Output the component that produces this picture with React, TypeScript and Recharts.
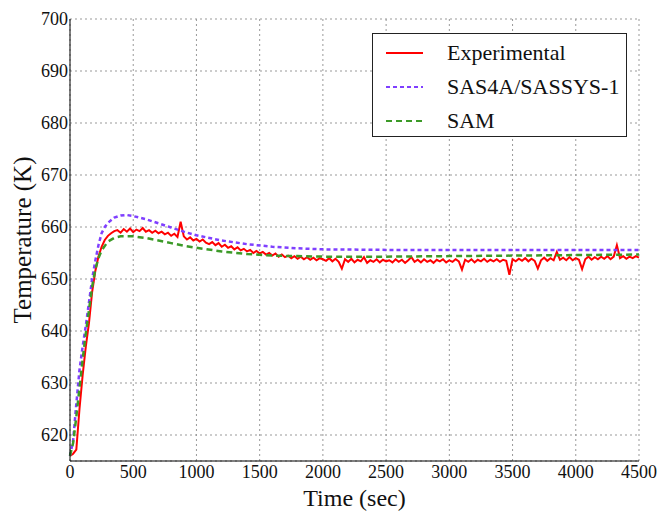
import React from 'react';
import { LineChart, Line, XAxis, YAxis, CartesianGrid, Legend } from 'recharts';

// experimental trace, one reading every 25 s from t = 0 to 4500
const EXP_STEP = 25;
const expTemp = [
  616.0, 616.4, 617.2, 625.0, 631.5, 637.0, 641.5, 647.5, 651.5, 654.3, 656.2, 657.5, 658.3, 658.8, 659.2,
  659.4, 658.9, 659.6, 659.1, 659.7, 659.0, 659.5, 659.2, 659.8, 659.1, 659.4, 658.9, 659.3, 658.8,
  659.1, 658.6, 658.9, 658.3, 658.7, 658.1, 661.0, 658.2, 657.6, 658.0, 657.4, 657.7,
  657.2, 657.6, 657.0, 656.7, 657.1, 656.5, 656.9, 656.2, 656.6, 656.0, 656.3, 655.7, 656.1, 655.5, 655.8, 655.3, 655.6, 655.0, 655.4, 654.9,
  655.2, 654.7, 655.0, 654.5, 654.9, 654.3, 654.7, 654.2, 654.5, 654.0, 654.4, 653.9, 654.3, 653.8, 654.2, 653.7, 654.1, 653.6, 654.0, 653.8,
  653.5, 654.0, 653.4, 653.9, 653.3, 652.0, 653.8, 653.3, 653.9, 653.2, 653.7, 653.4, 654.2, 653.1, 653.6, 653.3, 653.8, 653.2, 653.7, 653.4,
  653.6, 653.2, 653.8, 653.3, 653.7, 653.1, 653.6, 654.2, 653.3, 653.7, 653.2, 653.8, 653.3, 653.6, 653.1, 653.7, 653.4, 653.8, 653.2, 653.6,
  653.3, 653.8, 653.4, 651.8, 653.7, 653.3, 653.8, 653.2, 653.7, 653.4, 653.9, 653.3, 653.7, 653.4, 653.8, 653.3, 653.7, 653.5, 650.8, 653.8,
  653.4, 653.9, 653.5, 654.0, 653.4, 653.9, 653.5, 652.0, 653.6, 654.1, 653.5, 654.0, 653.6, 655.2, 653.7, 654.1, 653.6, 654.2, 653.6, 654.0,
  653.7, 651.9, 653.8, 654.3, 653.7, 654.2, 653.8, 654.3, 653.9, 654.4, 653.8, 654.3, 656.5, 654.0, 654.4, 653.9, 654.3, 654.0, 654.4, 654.1,
];

const sasTime = [0, 25, 50, 75, 100, 125, 150, 175, 200, 225, 250, 275, 300, 350, 400, 450, 500, 600, 700, 800, 900, 1000, 1200, 1400, 1600, 1800, 2000, 2500, 3000, 3500, 4000, 4500];
const sasTemp = [616.0, 619.0, 626.0, 632.5, 637.0, 641.0, 645.5, 650.0, 653.5, 656.5, 658.8, 660.0, 660.8, 661.8, 662.2, 662.3, 662.1, 661.5, 660.7, 659.9, 659.1, 658.4, 657.4, 656.7, 656.2, 655.9, 655.7, 655.6, 655.6, 655.6, 655.6, 655.6];

const samTime = [0, 25, 50, 75, 100, 125, 150, 175, 200, 225, 250, 300, 350, 400, 500, 600, 700, 800, 900, 1000, 1200, 1400, 1600, 1800, 2000, 2500, 3000, 3500, 4000, 4500];
const samTemp = [616.0, 618.5, 623.5, 629.0, 634.5, 639.5, 644.0, 648.5, 651.8, 654.0, 655.5, 657.2, 657.9, 658.2, 658.2, 657.9, 657.4, 656.9, 656.4, 656.0, 655.3, 654.8, 654.5, 654.4, 654.3, 654.3, 654.4, 654.5, 654.6, 654.7];

const xTicks = [0, 500, 1000, 1500, 2000, 2500, 3000, 3500, 4000, 4500];
const yTicks = [620, 630, 640, 650, 660, 670, 680, 690, 700];

const expData = expTemp.map((v, i) => ({ t: i * EXP_STEP, v }));
const sasData = sasTime.map((t, i) => ({ t, v: sasTemp[i] }));
const samData = samTime.map((t, i) => ({ t, v: samTemp[i] }));

const FONT = '"Liberation Serif", "Times New Roman", serif';

const series = [
  { name: 'Experimental', color: '#ff0000', dash: undefined as string | undefined },
  { name: 'SAS4A/SASSYS-1', color: '#7f3fff', dash: '4 3' },
  { name: 'SAM', color: '#3c9a28', dash: '6 4' },
];

function LegendBox() {
  return (
    <div
      style={{
        width: 255,
        height: 104,
        border: '1px solid #222',
        background: '#fff',
        boxSizing: 'border-box',
        paddingTop: 2,
        fontFamily: FONT,
        fontSize: 22,
        color: '#111',
      }}
    >
      {series.map((s) => (
        <div key={s.name} style={{ height: 34, display: 'flex', alignItems: 'center' }}>
          <svg width={74} height={10}>
            <line x1={13} x2={50} y1={5} y2={5} stroke={s.color} strokeWidth={2} strokeDasharray={s.dash} />
          </svg>
          <span>{s.name}</span>
        </div>
      ))}
    </div>
  );
}

const tickStyle = { fill: '#111', fontSize: 18, fontFamily: FONT, style: { fontFamily: FONT } };

export default function App() {
  return (
    <div style={{ position: 'absolute', left: 0, top: 0, background: '#fff', fontFamily: FONT }}>
      <LineChart width={658} height={513} margin={{ top: 19, right: 19, bottom: 0, left: 0 }}>
        <CartesianGrid stroke="#999" strokeDasharray="2 3" />
        <XAxis
          dataKey="t"
          type="number"
          domain={[0, 4500]}
          ticks={xTicks}
          height={52}
          tickLine={false}
          tickSize={2}
          tickMargin={2}
          axisLine={{ stroke: '#000' }}
          tick={tickStyle}
          label={{ value: 'Time (sec)', position: 'insideBottom', offset: 7, style: { fontSize: 24, fontFamily: FONT, fill: '#111' } }}
        />
        <XAxis xAxisId="top" orientation="top" type="number" domain={[0, 4500]} height={0} tick={false} tickLine={false} axisLine={{ stroke: '#000' }} />
        <YAxis
          type="number"
          domain={[615, 700]}
          ticks={yTicks}
          width={70}
          tickLine={false}
          tickSize={0}
          tickMargin={2}
          axisLine={{ stroke: '#000' }}
          tick={tickStyle}
          label={{ value: 'Temperature (K)', angle: -90, position: 'insideLeft', offset: 22, style: { textAnchor: 'middle', fontSize: 25, fontFamily: FONT, fill: '#111' } }}
        />
        <YAxis yAxisId="right" orientation="right" type="number" domain={[615, 700]} width={0} tick={false} tickLine={false} axisLine={{ stroke: '#000' }} />
        <Legend
          layout="vertical"
          align="center"
          verticalAlign="middle"
          wrapperStyle={{ left: 372, top: 33, width: 255 }}
          content={() => <LegendBox />}
        />
        <Line data={expData} dataKey="v" name="Experimental" stroke={series[0].color} strokeWidth={2} dot={false} isAnimationActive={false} />
        <Line data={sasData} dataKey="v" name="SAS4A/SASSYS-1" stroke={series[1].color} strokeWidth={2.5} strokeDasharray={series[1].dash} dot={false} isAnimationActive={false} />
        <Line data={samData} dataKey="v" name="SAM" stroke={series[2].color} strokeWidth={2.5} strokeDasharray={series[2].dash} dot={false} isAnimationActive={false} />
      </LineChart>
    </div>
  );
}
